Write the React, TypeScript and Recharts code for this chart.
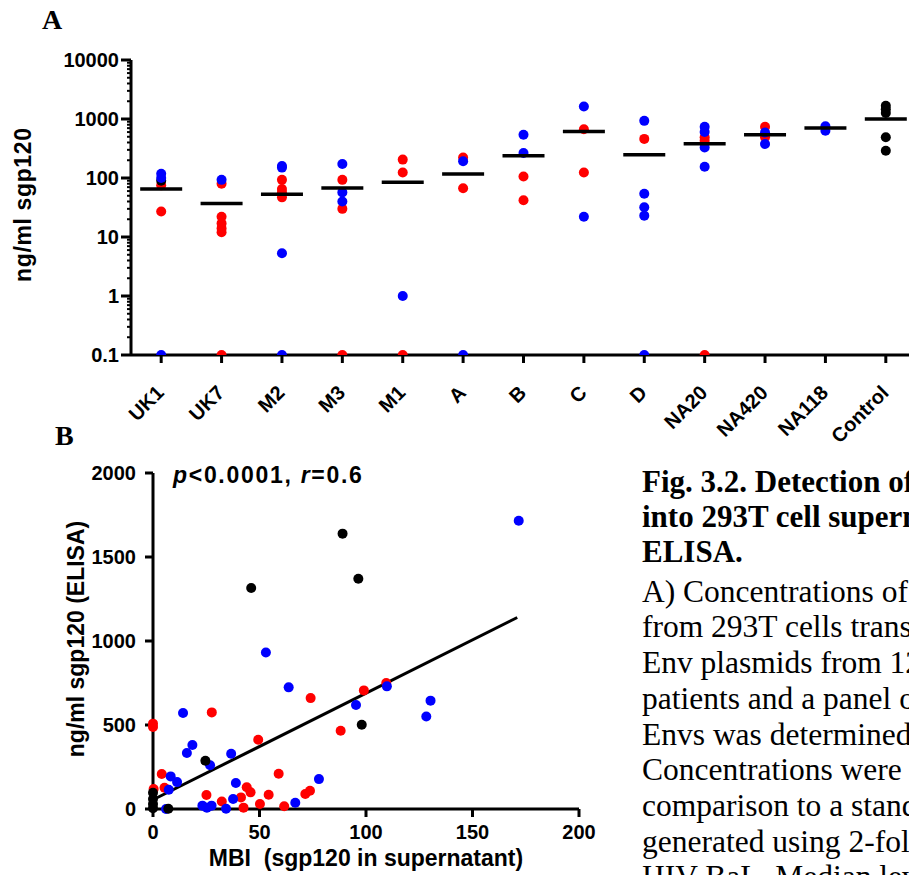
import { ComposedChart, Scatter, XAxis, YAxis, ReferenceLine } from "recharts";

const SANS = "Arial, 'Liberation Sans', sans-serif";
const SERIF = "'Times New Roman', 'Liberation Serif', serif";

// Panel A: sgp120 per Env, one list of values per category
const categories = ["UK1", "UK7", "M2", "M3", "M1", "A", "B", "C", "D", "NA20", "NA420", "NA118", "Control"];
const redA = [[75, 27], [80, 22, 17, 14, 12, 0.1], [93, 65, 57, 47], [93, 30, 0.1], [205, 124, 0.1], [222, 67], [106, 42], [670, 124], [460], [490, 430, 0.1], [740, 490], [], []];
const blackA = [[90], [], [], [], [], [], [], [], [], [], [], [], [1670, 1470, 1260, 490, 290]];
const blueA = [[118, 100, 0.1], [93], [160, 150, 5.3, 0.1], [173, 57, 40], [1], [192, 0.1], [540, 265], [1630, 22], [930, 54, 32, 23, 0.1], [740, 605, 330, 155], [590, 376], [755, 630], []];
const meanA = [65, 37, 53, 68, 85, 117, 239, 615, 248, 380, 540, 705, 1000];
const logTicks = [0.1, 1, 10, 100, 1000, 10000];
const minorTicks = logTicks.slice(0, -1).flatMap((t) => [2, 3, 4, 5, 6, 7, 8, 9].map((k) => k * t));

// Panel B: ELISA vs MBI
const redB = [[0.3, 119], [0, 508], [0, 488], [4.1, 208], [5.4, 127], [25.1, 83], [27.6, 575], [32.3, 45], [41.3, 69], [42.5, 8], [44, 129], [45.8, 99], [49.4, 412], [50.2, 30], [54.3, 85], [59, 210], [61.6, 16], [71.5, 89], [73.7, 109], [74, 660], [88.1, 466], [99, 706], [109.5, 750]];
const blackB = [[0, 97], [0, 60], [0, 30], [0, 5], [7.2, 2], [24.6, 287], [46.1, 1315], [89, 1639], [96.4, 1371], [98, 502]];
const blueB = [[6.1, 0], [7.4, 115], [8.3, 194], [11.3, 160], [14.1, 571], [15.9, 333], [18.5, 381], [23.2, 20], [25.3, 8], [26.8, 260], [27.5, 20], [34.3, 2], [36.7, 329], [37.6, 59], [38.9, 155], [53, 932], [63.7, 724], [66.8, 37], [77.9, 178], [95.3, 619], [109.8, 730], [128.3, 551], [130.3, 645], [171.7, 1716]];
const fitLine = [{ x: 0, y: 55 }, { x: 171, y: 1140 }];
const xTicksB = [0, 50, 100, 150, 200];
const yTicksB = [0, 500, 1000, 1500, 2000];

const captionBold = ["Fig. 3.2. Detection of sgp120 secreted", "into 293T cell supernatants by", "ELISA."];
const captionBody = [
  "A) Concentrations of sgp120",
  "from 293T cells transfected with",
  "Env plasmids from 12 HIV-infected",
  "patients and a panel of reference",
  "Envs was determined by ELISA.",
  "Concentrations were calculated by",
  "comparison to a standard curve",
  "generated using 2-fold dilutions of",
  "HIV BaL. Median levels are shown",
];

const byCategory = (groups: number[][]) => groups.flatMap((vals, i) => vals.map((v) => ({ x: i, y: v })));
const pairs = (rows: number[][]) => rows.map(([x, y]) => ({ x, y }));

const Dot = (p: any) => <circle cx={p.cx} cy={p.cy} r={5} fill={p.fill} />;
const MeanBar = (p: any) => (
  <line x1={p.cx - 21} x2={p.cx + 21} y1={p.cy} y2={p.cy} stroke="#000" strokeWidth={3.5} />
);

function LogTick({ x, y, payload }: any) {
  const axisX = x + 12;
  const major = logTicks.includes(payload.value);
  return (
    <g>
      <line x1={axisX - (major ? 10 : 4)} x2={axisX} y1={y} y2={y} stroke="#000" strokeWidth={major ? 3 : 2} />
      {major && (
        <text x={axisX - 12} y={y} dy="0.36em" textAnchor="end" fontSize={20} fontWeight="bold" fontFamily={SANS} fill="#000">
          {String(payload.value)}
        </text>
      )}
    </g>
  );
}

function CategoryTick({ x, y, payload }: any) {
  return (
    <text
      transform={`translate(${x + 4},${y + 29}) rotate(-45)`}
      textAnchor="end"
      fontSize={20}
      fontWeight="bold"
      fontFamily={SANS}
      fill="#000"
    >
      {categories[payload.value]}
    </text>
  );
}

const axisStyle = { stroke: "#000", strokeWidth: 3 };
const tickFont = { fontSize: 20, fontWeight: "bold", fill: "#000", fontFamily: SANS };

export default function App() {
  return (
    <div style={{ position: "absolute", left: 0, top: 0, width: 909, height: 875, overflow: "hidden", background: "#fff" }}>
      <div style={{ position: "absolute", left: 0, top: 0 }}>
        <ComposedChart width={940} height={460} margin={{ top: 60, right: 24, bottom: 0, left: 0 }}>
          <XAxis
            type="number"
            dataKey="x"
            domain={[-0.5, 12.5]}
            ticks={categories.map((_, i) => i)}
            interval={0}
            height={105}
            tickSize={8}
            axisLine={axisStyle}
            tickLine={axisStyle}
            tick={<CategoryTick />}
            allowDataOverflow
          />
          <YAxis
            type="number"
            dataKey="y"
            scale="log"
            domain={[0.1, 10000]}
            ticks={[...logTicks, ...minorTicks]}
            interval={0}
            width={131}
            tickSize={10}
            tickMargin={2}
            tickLine={false}
            axisLine={axisStyle}
            tick={<LogTick />}
            allowDataOverflow
          />
          <Scatter data={byCategory(redA)} fill="#ff0000" shape={Dot} isAnimationActive={false} />
          <Scatter data={byCategory(blackA)} fill="#000000" shape={Dot} isAnimationActive={false} />
          <Scatter data={byCategory(blueA)} fill="#0000ff" shape={Dot} isAnimationActive={false} />
          <Scatter data={meanA.map((v, i) => ({ x: i, y: v }))} shape={MeanBar} isAnimationActive={false} />
        </ComposedChart>
      </div>

      <div style={{ position: "absolute", left: 0, top: 420 }}>
        <ComposedChart width={600} height={455} margin={{ top: 53, right: 21, bottom: 0, left: 0 }}>
          <XAxis
            type="number"
            dataKey="x"
            domain={[0, 200]}
            ticks={xTicksB}
            interval={0}
            height={66}
            tickSize={8}
            tickMargin={8}
            axisLine={axisStyle}
            tickLine={axisStyle}
            tick={tickFont}
          />
          <YAxis
            type="number"
            dataKey="y"
            domain={[0, 2000]}
            ticks={yTicksB}
            interval={0}
            width={153}
            tickSize={8}
            tickMargin={9}
            axisLine={axisStyle}
            tickLine={axisStyle}
            tick={tickFont}
          />
          <Scatter data={pairs(redB)} fill="#ff0000" shape={Dot} isAnimationActive={false} />
          <Scatter data={pairs(blueB)} fill="#0000ff" shape={Dot} isAnimationActive={false} />
          <Scatter data={pairs(blackB)} fill="#000000" shape={Dot} isAnimationActive={false} />
          <ReferenceLine segment={fitLine} stroke="#000" strokeWidth={3} ifOverflow="visible" />
        </ComposedChart>
      </div>

      <svg width={909} height={875} style={{ position: "absolute", left: 0, top: 0, pointerEvents: "none" }}>
        <g fontFamily={SANS} fontWeight="bold" fill="#000">
          <text transform="translate(31,205) rotate(-90)" textAnchor="middle" fontSize={23} textLength={154}>
            ng/ml sgp120
          </text>
          <text transform="translate(84,639) rotate(-90)" textAnchor="middle" fontSize={23}>
            ng/ml sgp120 (ELISA)
          </text>
          <text x={366} y={866} textAnchor="middle" fontSize={23} style={{ whiteSpace: "pre" }}>
            {"MBI  (sgp120 in supernatant)"}
          </text>
          <text x={173} y={483} fontSize={23} letterSpacing={1.7} style={{ whiteSpace: "pre" }}>
            <tspan fontStyle="italic">p</tspan>
            {"<0.0001, "}
            <tspan fontStyle="italic">r</tspan>
            {"=0.6"}
          </text>
        </g>
        <g fontFamily={SERIF} fill="#000">
          <text x={42} y={29} fontSize={28} fontWeight="bold">A</text>
          <text x={55} y={445} fontSize={28} fontWeight="bold">B</text>
          {captionBold.map((line, i) => (
            <text key={line} x={642} y={492 + i * 35} fontSize={31} fontWeight="bold">
              {line}
            </text>
          ))}
          {captionBody.map((line, i) => (
            <text key={line} x={642} y={601.7 + i * 35.7} fontSize={31.5}>
              {line}
            </text>
          ))}
        </g>
      </svg>
    </div>
  );
}
